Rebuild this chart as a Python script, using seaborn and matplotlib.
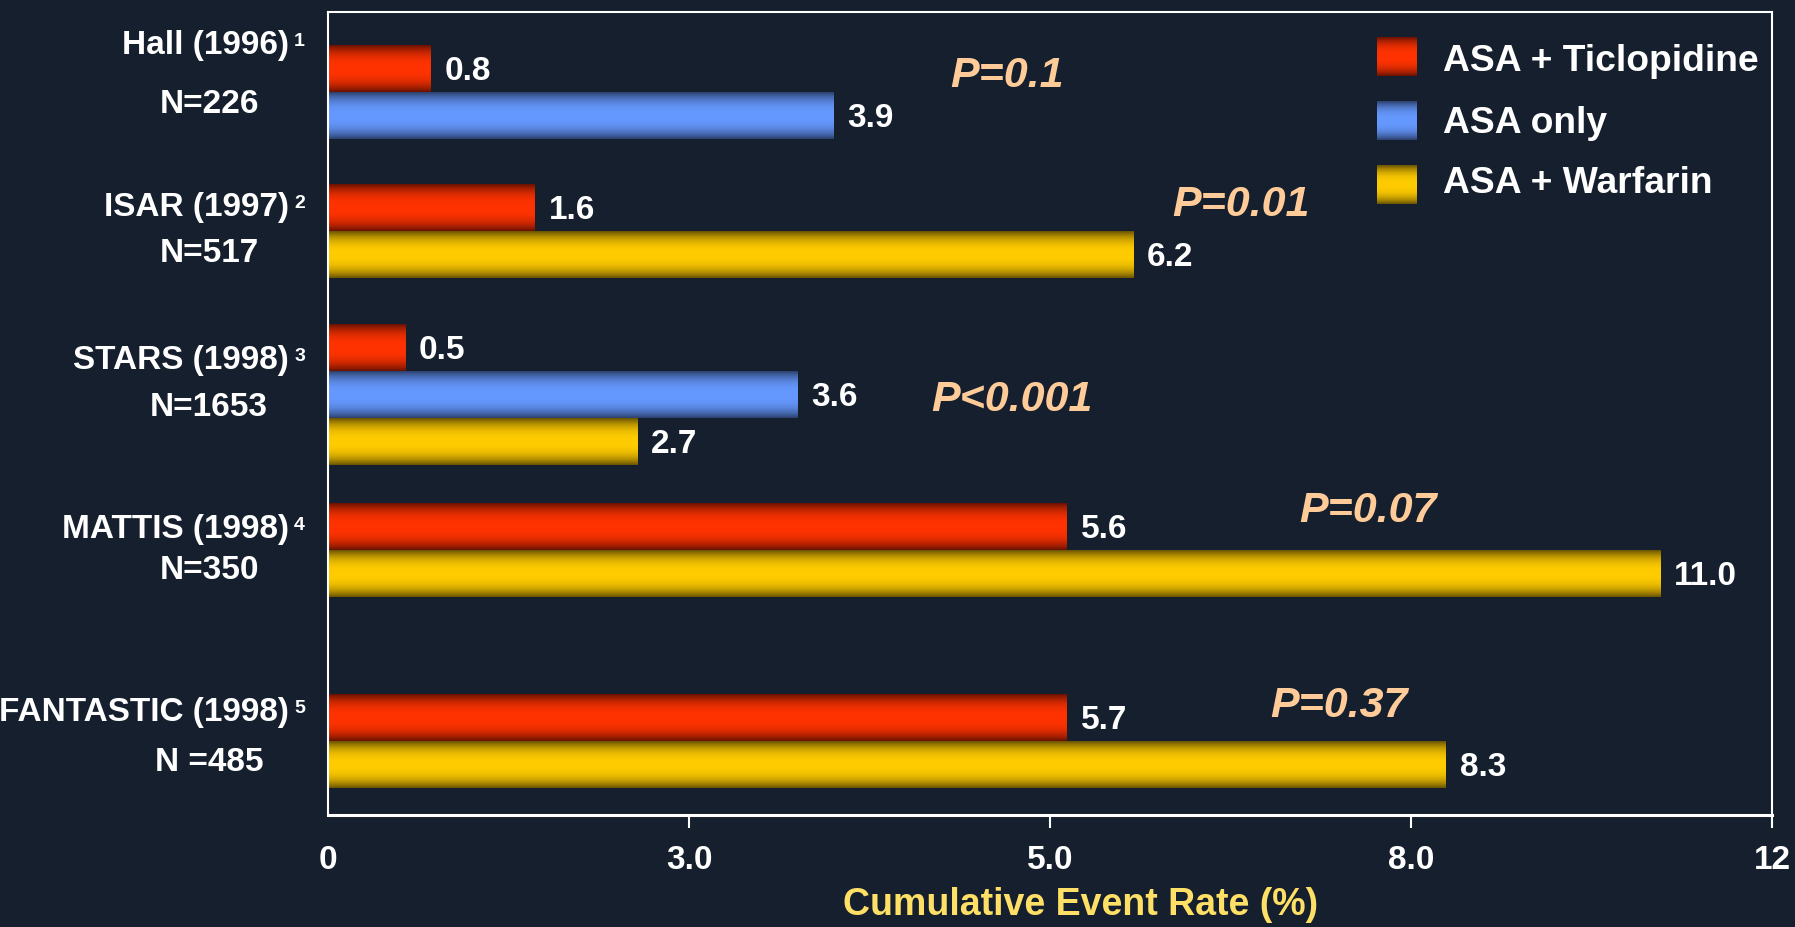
import numpy as np
import pandas as pd
import seaborn as sns
import matplotlib.pyplot as plt
from matplotlib.colors import to_rgb
from matplotlib.transforms import blended_transform_factory

# ---------------- data ----------------
studies = ['Hall (1996)', 'ISAR (1997)', 'STARS (1998)', 'MATTIS (1998)', 'FANTASTIC (1998)']
refs = ['1', '2', '3', '4', '5']
n_labels = ['N=226', 'N=517', 'N=1653', 'N=350', 'N =485']
arms = ['ASA + Ticlopidine', 'ASA only', 'ASA + Warfarin']
study_arms = [
    ['ASA + Ticlopidine', 'ASA only'],
    ['ASA + Ticlopidine', 'ASA + Warfarin'],
    ['ASA + Ticlopidine', 'ASA only', 'ASA + Warfarin'],
    ['ASA + Ticlopidine', 'ASA + Warfarin'],
    ['ASA + Ticlopidine', 'ASA + Warfarin'],
]
# event rate printed next to each bar
rates = [[0.8, 3.9], [1.6, 6.2], [0.5, 3.6, 2.7], [5.6, 11.0], [5.7, 8.3]]
# bar length as drawn on the slide axis (slide is not drawn to scale)
bar_lengths = [[0.85, 4.20], [1.72, 6.69], [0.64, 3.90, 2.57], [6.14, 11.07], [6.14, 9.29]]
p_values = ['P=0.1', 'P=0.01', 'P<0.001', 'P=0.07', 'P=0.37']
x_ticks = [0, 3, 6, 9, 12]
x_tick_labels = ['0', '3.0', '5.0', '8.0', '12']

# ---------------- layout ----------------
group_top = [0.72, 3.67, 6.66, 10.47, 14.53]   # in bar-height units
name_dy = [0.0, 0.50, 0.77, 0.56, 0.39]
n_dy = [1.25, 1.48, 1.76, 1.43, 1.46]
p_pos = [(5.64, 1.37), (7.59, 4.12), (5.68, 8.26), (8.64, 10.62), (8.40, 14.77)]

bg = '#151f2d'
mid_colors = {'ASA + Ticlopidine': '#ff3300', 'ASA only': '#6699ff', 'ASA + Warfarin': '#ffcc00'}
edge_colors = {'ASA + Ticlopidine': '#6a1200', 'ASA only': '#2c416e', 'ASA + Warfarin': '#6a5400'}

rows = []
for g, study in enumerate(studies):
    for i, arm in enumerate(study_arms[g]):
        rows.append({'study': study, 'arm': arm, 'pos': group_top[g] + i + 0.5,
                     'length': bar_lengths[g][i], 'rate': rates[g][i]})
df = pd.DataFrame(rows)

sns.set_theme(style='dark')
plt.rcParams['font.family'] = ['Liberation Sans', 'DejaVu Sans']


def shade(c_mid, c_edge, n=80):
    t = np.linspace(0, 1, n)
    f = 1 - np.abs(2 * t - 1) ** 2.5
    mid = np.array(to_rgb(c_mid))
    edge = np.array(to_rgb(c_edge))
    return (edge + (mid - edge) * f[:, None])[:, None, :]


fig = plt.figure(figsize=(17.95, 9.27), dpi=100)
fig.set_facecolor(bg)
ax = fig.add_axes([328 / 1795, 1 - 815 / 927, 1444 / 1795, 803.5 / 927])
ax.set_facecolor(bg)

sns.barplot(data=df, x='length', y='pos', hue='arm', hue_order=arms, palette=mid_colors,
            orient='y', native_scale=True, dodge=False, width=1.0, saturation=1,
            errorbar=None, legend=False, ax=ax)

# cylinder shading on every bar
for patch in list(ax.patches):
    fc = np.array(patch.get_facecolor()[:3])
    arm = min(arms, key=lambda a: np.sum((np.array(to_rgb(mid_colors[a])) - fc) ** 2))
    x0, y0, w, h = patch.get_x(), patch.get_y(), patch.get_width(), patch.get_height()
    ax.imshow(shade(mid_colors[arm], edge_colors[arm]), extent=(x0, x0 + w, y0 + h, y0),
              aspect='auto', interpolation='bilinear', zorder=2)
    patch.set_visible(False)

# value labels
for _, r in df.iterrows():
    ax.annotate(f"{r['rate']:.1f}", xy=(r['length'], r['pos']), xytext=(10, -2),
                textcoords='offset points', ha='left', va='center',
                fontsize=24, fontweight='bold', color='white')

# p-values
for (px, py), p in zip(p_pos, p_values):
    ax.text(px, py, p, ha='center', va='center', fontsize=31, fontweight='bold',
            fontstyle='italic', color='#ffcc99')

# study names on the left
trans = blended_transform_factory(ax.transAxes, ax.transData)
for g, study in enumerate(studies):
    ny = group_top[g] + name_dy[g]
    ax.text(-0.027, ny, study, transform=trans, ha='right', va='center',
            fontsize=24, fontweight='bold', color='white')
    ax.text(-0.0235, ny - 0.09, refs[g], transform=trans, ha='left', va='center',
            fontsize=14, fontweight='bold', color='white')
    ax.text(-0.0824, group_top[g] + n_dy[g], n_labels[g], transform=trans,
            ha='center', va='center', fontsize=24, fontweight='bold', color='white')

ax.set_xlim(0, 12)
ax.set_ylim(17.1, 0)
ax.set_yticks([])
ax.set_ylabel('')
ax.set_xticks(x_ticks)
ax.set_xticklabels(x_tick_labels, fontsize=24, fontweight='bold', color='white')
ax.tick_params(axis='x', direction='out', length=9.4, width=1.5, color='white', pad=12,
               bottom=True)
ax.xaxis.get_major_ticks()[0].tick1line.set_visible(False)
ax.grid(False)
for s in ax.spines.values():
    s.set_visible(True)
    s.set_color('white')
    s.set_linewidth(1.5)
ax.spines['bottom'].set_linewidth(2.2)

ax.set_xlabel('Cumulative Event Rate (%)', fontsize=27, fontweight='bold',
              color='#ffe066', va='center')
ax.xaxis.set_label_coords(0.521, (815 - 905) / 803.5)

# legend drawn by hand so the swatches carry the same shading
sw_y = [36.7, 101, 165]
txt_base = [70.8, 133.3, 193.3]
for arm, top, base in zip(arms, sw_y, txt_base):
    sax = fig.add_axes([1376.7 / 1795, 1 - (top + 39) / 927, 40 / 1795, 39 / 927])
    sax.imshow(shade(mid_colors[arm], edge_colors[arm]), aspect='auto', interpolation='bilinear')
    sax.axis('off')
    fig.text(1443 / 1795, 1 - base / 927, arm, ha='left', va='baseline',
             fontsize=26.8, fontweight='bold', color='white')

fig.savefig('out.png', dpi=100, facecolor=fig.get_facecolor())
